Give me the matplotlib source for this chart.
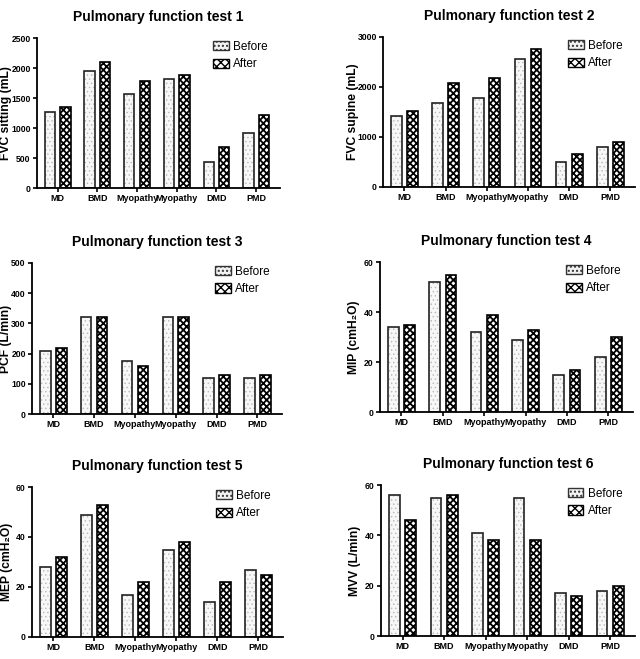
import matplotlib
matplotlib.use("Agg")
import matplotlib.pyplot as plt
from matplotlib.patches import Patch
import numpy as np

plt.rcParams['font.family'] = ['Liberation Sans', 'DejaVu Sans']
plt.rcParams['hatch.linewidth'] = 1.0

groups = ["MD", "BMD", "Myopathy", "Myopathy", "DMD", "PMD"]

titles = ["Pulmonary function test 1", "Pulmonary function test 2",
          "Pulmonary function test 3", "Pulmonary function test 4",
          "Pulmonary function test 5", "Pulmonary function test 6"]
ylabels = ["FVC sitting (mL)", "FVC supine (mL)", "PCF (L/min)",
           "MIP (cmH₂O)", "MEP (cmH₂O)", "MVV (L/min)"]

fvc_sit_before = [1270, 1950, 1560, 1810, 430, 910]
fvc_sit_after = [1350, 2100, 1790, 1890, 690, 1220]
fvc_sup_before = [1420, 1690, 1790, 2570, 510, 810]
fvc_sup_after = [1520, 2080, 2180, 2770, 660, 900]
pcf_before = [210, 320, 175, 320, 120, 120]
pcf_after = [220, 320, 160, 320, 130, 130]
mip_before = [34, 52, 32, 29, 15, 22]
mip_after = [35, 55, 39, 33, 17, 30]
mep_before = [28, 49, 17, 35, 14, 27]
mep_after = [32, 53, 22, 38, 22, 25]
mvv_before = [56, 55, 41, 55, 17, 18]
mvv_after = [46, 56, 38, 38, 16, 20]

before = [fvc_sit_before, fvc_sup_before, pcf_before, mip_before, mep_before, mvv_before]
after = [fvc_sit_after, fvc_sup_after, pcf_after, mip_after, mep_after, mvv_after]
ymax = [2500, 3000, 500, 60, 60, 60]
ystep = [500, 1000, 100, 20, 20, 20]

# axes boxes in pixels: left, top, right, bottom
boxes = [(37, 38, 280, 188), (383, 37, 635, 187),
         (32, 263, 282, 414), (380, 262, 633, 412),
         (32, 487, 283, 637), (381, 485, 635, 636)]
ylabel_px = [6, 353, 6, 354, 7, 355]

W, H = 640, 659
fig = plt.figure(figsize=(6.4, 6.59), dpi=100)

x = np.arange(len(groups))
bw = 0.26
off = 0.195


def hatch_lw(bars, lw):
    for p in bars:
        if hasattr(p, "set_hatch_linewidth"):
            p.set_hatch_linewidth(lw)


for i in range(6):
    l, t, r, b = boxes[i]
    ax = fig.add_axes([l / W, 1 - b / H, (r - l) / W, (b - t) / H])
    bb = ax.bar(x - off, before[i], bw, color="#f7f7f7", edgecolor="#b8b8b8",
                hatch="....", linewidth=0)
    hatch_lw(bb, 0.5)
    ax.bar(x - off, before[i], bw, fill=False, edgecolor="#222222", linewidth=1.2)
    ab = ax.bar(x + off, after[i], bw, color="white", edgecolor="black",
                hatch="xxxxx", linewidth=1.2)
    hatch_lw(ab, 1.3)
    ax.set_xlim(-0.52, 5.6)
    ax.set_ylim(0, ymax[i])
    ax.set_yticks(np.arange(0, ymax[i] + 1, ystep[i]))
    ax.set_xticks(x)
    ax.set_xticklabels(groups, fontsize=6.5, fontweight="bold")
    for lab in ax.get_yticklabels():
        lab.set_fontsize(6.2)
        lab.set_fontweight("bold")
    ax.tick_params(axis="both", length=3, width=1.2, pad=1.5)
    ax.spines["top"].set_visible(False)
    ax.spines["right"].set_visible(False)
    ax.spines["left"].set_linewidth(1.3)
    ax.spines["bottom"].set_linewidth(1.3)
    ax.set_ylabel(ylabels[i], fontsize=8.7, fontweight="bold", va="center")
    ax.yaxis.set_label_coords((ylabel_px[i] - l) / (r - l), 0.5)
    ax.set_title(titles[i], fontsize=10, fontweight="bold", pad=12)
    handles = [Patch(facecolor="#f2f2f2", edgecolor="#333333", hatch="...."),
               Patch(facecolor="white", edgecolor="black", hatch="xxxx")]
    ax.legend(handles, ["Before", "After"], loc="upper right", frameon=False,
              fontsize=8.5, handlelength=1.3, handleheight=0.9, borderaxespad=0.2,
              handletextpad=0.4, labelspacing=0.5, bbox_to_anchor=(0.98, 1.03))

fig.savefig("out.png", dpi=100)
